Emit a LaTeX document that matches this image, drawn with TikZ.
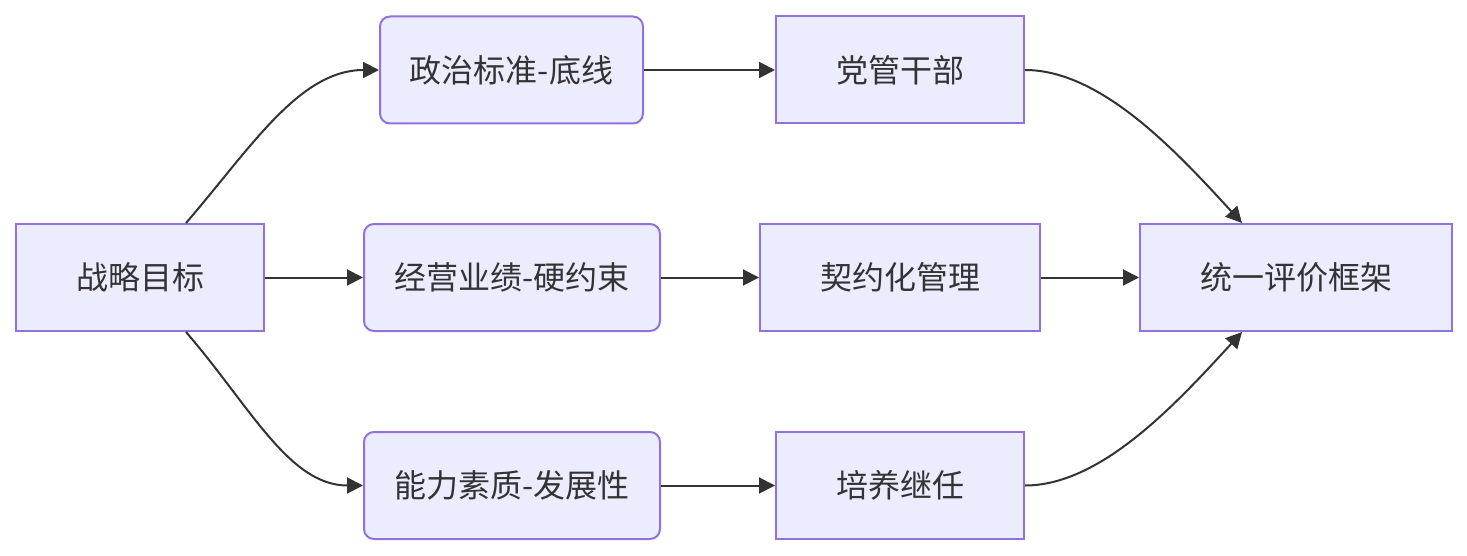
\documentclass[tikz,border=0pt]{standalone}
\usepackage{fontspec}
\setmainfont{Noto Sans CJK SC}
\usetikzlibrary{arrows.meta}
\definecolor{boxfill}{HTML}{ECECFF}
\definecolor{boxline}{HTML}{9370DB}
\definecolor{ink}{HTML}{333333}
\tikzset{
  box/.style={draw=boxline, fill=boxfill, line width=1pt, text=ink, font=\fontsize{16}{19}\selectfont, minimum height=53.5pt, inner sep=0pt},
  rbox/.style={box, rounded corners=5pt},
  arr/.style={-{Triangle[length=8pt,width=8pt]}, line width=1pt, draw=ink},
}
\begin{document}
\begin{tikzpicture}[x=0.5pt, y=-0.5pt]
    \useasboundingbox (0,0) rectangle (1467,556);
    \node[box, minimum width=124pt] (goal) at (140,277.5) {战略目标};
    \node[rbox, minimum width=131.5pt] (pol) at (511.5,70) {政治标准-底线};
    \node[rbox, minimum width=148pt] (biz) at (512,277.5) {经营业绩-硬约束};
    \node[rbox, minimum width=148pt] (cap) at (512,485.5) {能力素质-发展性};
    \node[box, minimum width=124pt] (party) at (900,70) {党管干部};
    \node[box, minimum width=140pt] (contract) at (900,277.5) {契约化管理};
    \node[box, minimum width=124pt] (train) at (900,485.5) {培养继任};
    \node[box, minimum width=156pt] (eval) at (1296,277.5) {统一评价框架};
    \foreach \p/\q in {goal/biz, pol/party, biz/contract, cap/train, contract/eval} \draw[arr] (\p) -- (\q);
    \draw[arr] ([xshift=23pt]goal.north) .. controls +(64,-74) and +(-80,0) .. (pol.west);
    \draw[arr] ([xshift=23pt]goal.south) .. controls +(64,74) and +(-74,0) .. (cap.west);
    \draw[arr] (party.east) .. controls +(76,0) and +(-66,-72) .. ([xshift=-27pt]eval.north);
    \draw[arr] (train.east) .. controls +(76,0) and +(-66,72) .. ([xshift=-27pt]eval.south);
\end{tikzpicture}
\end{document}
